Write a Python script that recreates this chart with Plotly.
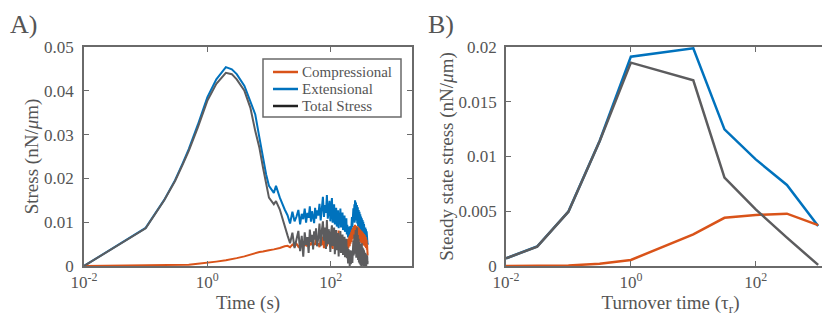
import plotly.graph_objects as go

# ---- panel A: stress vs time ----
time_early = [0.01, 0.1, 0.2, 0.3, 0.4, 0.5, 0.7, 1.0, 1.4, 2.0, 2.5, 3, 4, 5, 6, 7, 8, 9, 10, 12, 13, 15, 18]
time_mid = [20, 22, 24, 26, 28, 30, 32, 34, 36, 38, 40, 42, 44, 46, 48, 50, 52, 54, 56, 58, 60]
time_late = [63, 66, 69, 72, 75, 78, 81, 84, 87, 90,
             93, 96, 99, 102, 105, 108, 111, 114, 117, 120,
             123, 126, 129, 132, 135, 138, 141, 144, 147, 150,
             153, 156, 159, 162, 165, 168, 171, 174, 177, 180,
             183, 186, 189, 192, 195, 198, 201, 204, 207, 210,
             213, 216, 219, 222, 225, 228, 231, 234, 237, 240,
             243, 246, 249, 252, 255, 258, 261, 264, 267, 270,
             273, 276, 279, 282, 285, 288, 291, 294, 297, 300,
             303, 306, 309, 312, 315, 318, 321, 324, 327, 330,
             333, 336, 339, 342, 345, 348, 351, 354, 357, 360,
             363, 366, 369, 372, 375, 378, 381, 384, 387, 390,
             393, 396, 399]

comp_early = [0, 0.0001, 0.0001, 0.0002, 0.0002, 0.0003, 0.0005, 0.0007, 0.0010, 0.0013, 0.0015, 0.0018,
              0.0022, 0.0026, 0.0030, 0.0032, 0.0033, 0.0035, 0.0036, 0.0038, 0.0039, 0.0041, 0.0045]
comp_mid = [0.0046, 0.0043, 0.0049, 0.0045, 0.0051, 0.0044, 0.0048, 0.0053, 0.0045, 0.0050, 0.0047,
            0.0055, 0.0044, 0.0051, 0.0048, 0.0058, 0.0046, 0.0052, 0.0049, 0.0061, 0.0047]
comp_late = [0.0052, 0.0043, 0.0060, 0.0048, 0.0067, 0.0041, 0.0056, 0.0072, 0.0045, 0.0063,
             0.0050, 0.0078, 0.0042, 0.0058, 0.0070, 0.0039, 0.0061, 0.0047, 0.0075, 0.0044,
             0.0057, 0.0038, 0.0066, 0.0049, 0.0081, 0.0036, 0.0059, 0.0043, 0.0068, 0.0034,
             0.0052, 0.0064, 0.0031, 0.0055, 0.0040, 0.0061, 0.0033, 0.0049, 0.0058, 0.0030,
             0.0046, 0.0056, 0.0035, 0.0062, 0.0042, 0.0053, 0.0068, 0.0045, 0.0072, 0.0051,
             0.0064, 0.0078, 0.0055, 0.0083, 0.0061, 0.0074, 0.0088, 0.0063, 0.0079, 0.0091,
             0.0068, 0.0085, 0.0094, 0.0070, 0.0089, 0.0064, 0.0092, 0.0076, 0.0086, 0.0061,
             0.0083, 0.0090, 0.0058, 0.0080, 0.0071, 0.0087, 0.0056, 0.0078, 0.0066, 0.0084,
             0.0054, 0.0075, 0.0063, 0.0081, 0.0052, 0.0072, 0.0060, 0.0079, 0.0050, 0.0070,
             0.0058, 0.0076, 0.0048, 0.0068, 0.0056, 0.0073, 0.0046, 0.0065, 0.0054, 0.0070,
             0.0044, 0.0062, 0.0051, 0.0066, 0.0041, 0.0058, 0.0047, 0.0060, 0.0037, 0.0050,
             0.0042, 0.0031, 0.0024]

ext_early = [0, 0.0087, 0.0151, 0.0196, 0.0235, 0.0267, 0.0322, 0.0385, 0.0426, 0.0454, 0.0449, 0.0438,
             0.0411, 0.0377, 0.0346, 0.0293, 0.0247, 0.0209, 0.0183, 0.0167, 0.0183, 0.0156, 0.0129]
ext_mid = [0.0116, 0.0097, 0.0124, 0.0102, 0.0113, 0.0128, 0.0095, 0.0119, 0.0107, 0.0131, 0.0099,
           0.0121, 0.0110, 0.0136, 0.0101, 0.0125, 0.0114, 0.0098, 0.0133, 0.0108, 0.0127]
ext_late = [0.0115, 0.0142, 0.0104, 0.0131, 0.0158, 0.0112, 0.0139, 0.0121, 0.0162, 0.0108,
            0.0135, 0.0149, 0.0102, 0.0128, 0.0155, 0.0099, 0.0124, 0.0141, 0.0095, 0.0118,
            0.0133, 0.0090, 0.0112, 0.0127, 0.0086, 0.0119, 0.0104, 0.0131, 0.0088, 0.0110,
            0.0097, 0.0122, 0.0082, 0.0106, 0.0093, 0.0115, 0.0078, 0.0101, 0.0087, 0.0109,
            0.0072, 0.0094, 0.0081, 0.0065, 0.0090, 0.0069, 0.0084, 0.0062, 0.0079, 0.0091,
            0.0071, 0.0098, 0.0083, 0.0112, 0.0088, 0.0121, 0.0095, 0.0132, 0.0102, 0.0118,
            0.0141, 0.0099, 0.0150, 0.0112, 0.0136, 0.0145, 0.0104, 0.0128, 0.0139, 0.0097,
            0.0122, 0.0134, 0.0091, 0.0117, 0.0128, 0.0088, 0.0111, 0.0124, 0.0084, 0.0106,
            0.0118, 0.0080, 0.0102, 0.0113, 0.0077, 0.0098, 0.0109, 0.0074, 0.0094, 0.0105,
            0.0071, 0.0090, 0.0101, 0.0068, 0.0087, 0.0096, 0.0065, 0.0083, 0.0092, 0.0062,
            0.0079, 0.0088, 0.0060, 0.0075, 0.0084, 0.0057, 0.0071, 0.0079, 0.0054, 0.0066,
            0.0072, 0.0052, 0.0048]

total_early = [0, 0.0086, 0.0150, 0.0194, 0.0232, 0.0263, 0.0316, 0.0377, 0.0416, 0.0441, 0.0438, 0.0426,
               0.0400, 0.0361, 0.0308, 0.0270, 0.0225, 0.0186, 0.0156, 0.0141, 0.0148, 0.0129, 0.0095]
total_mid = [0.0070, 0.0052, 0.0076, 0.0041, 0.0063, 0.0080, 0.0034, 0.0069, 0.0021, 0.0077, 0.0048,
             0.0066, 0.0030, 0.0083, 0.0055, 0.0071, 0.0038, 0.0079, 0.0060, 0.0086, 0.0045]
total_late = [0.0063, 0.0097, 0.0045, 0.0081, 0.0102, 0.0058, 0.0088, 0.0039, 0.0105, 0.0050,
              0.0084, 0.0069, 0.0032, 0.0079, 0.0093, 0.0046, 0.0071, 0.0088, 0.0027, 0.0066,
              0.0082, 0.0036, 0.0058, 0.0075, 0.0022, 0.0069, 0.0048, 0.0080, 0.0030, 0.0061,
              0.0043, 0.0072, 0.0025, 0.0056, 0.0038, 0.0067, 0.0020, 0.0051, 0.0033, 0.0062,
              0.0018, 0.0044, 0.0028, 0.0006, 0.0039, 0.0012, 0.0030, 0.0000, 0.0021, 0.0036,
              0.0004, 0.0027, 0.0011, 0.0035, 0.0007, 0.0046, 0.0016, 0.0058, 0.0024, 0.0041,
              0.0072, 0.0028, 0.0066, 0.0035, 0.0082, 0.0043, 0.0019, 0.0060, 0.0088, 0.0026,
              0.0051, 0.0071, 0.0014, 0.0045, 0.0062, 0.0008, 0.0039, 0.0055, 0.0005, 0.0033,
              0.0050, 0.0002, 0.0029, 0.0046, 0.0000, 0.0031, 0.0052, 0.0004, 0.0027, 0.0042,
              0.0001, 0.0024, 0.0040, 0.0000, 0.0021, 0.0036, 0.0002, 0.0019, 0.0033, 0.0000,
              0.0017, 0.0030, 0.0003, 0.0014, 0.0027, 0.0000, 0.0012, 0.0024, 0.0001, 0.0010,
              0.0021, 0.0004, 0.0011]

# ---- panel B: steady state stress vs turnover time ----
turnover = [0.01, 0.0316, 0.1, 0.316, 1, 10, 31.6, 100, 316, 1000]
ss_comp = [0, 0.00001, 0.00005, 0.0002, 0.00055, 0.00289, 0.0044, 0.00466, 0.00478, 0.00374]
ss_ext = [0.0007, 0.00178, 0.00497, 0.01142, 0.01912, 0.01988, 0.01248, 0.00974, 0.0074, 0.00365]
ss_total = [0.0007, 0.00177, 0.00496, 0.0114, 0.01857, 0.01696, 0.00807, 0.00517, 0.00259, 0.0001]

legend_names = ['Compressional', 'Extensional', 'Total Stress']

ORANGE = '#D95319'
BLUE = '#0072BD'
GRAY = '#5c5c5e'
TXT = '#555555'
AX = '#6a6a6a'
FONT = 'Liberation Serif, Times New Roman, Times, serif'

time = time_early + time_mid + time_late

fig = go.Figure()
fig.add_trace(go.Scatter(x=time, y=ext_early + ext_mid + ext_late, mode='lines',
                         line=dict(color=BLUE, width=2)))
fig.add_trace(go.Scatter(x=time, y=comp_early + comp_mid + comp_late, mode='lines',
                         line=dict(color=ORANGE, width=2)))
fig.add_trace(go.Scatter(x=time, y=total_early + total_mid + total_late, mode='lines',
                         line=dict(color=GRAY, width=2)))

fig.add_trace(go.Scatter(x=turnover, y=ss_ext, mode='lines', line=dict(color=BLUE, width=2.5),
                         xaxis='x2', yaxis='y2'))
fig.add_trace(go.Scatter(x=turnover, y=ss_comp, mode='lines', line=dict(color=ORANGE, width=2.5),
                         xaxis='x2', yaxis='y2'))
fig.add_trace(go.Scatter(x=turnover, y=ss_total, mode='lines', line=dict(color=GRAY, width=2.5),
                         xaxis='x2', yaxis='y2'))

W, H = 830, 322
ydom = [(H - 258) / H, (H - 39) / H]


def px(x):
    return x / W


def py(y):
    return 1 - y / H


axis_common = dict(showgrid=False, zeroline=False, showline=True, linecolor=AX, linewidth=1.5,
                   mirror='ticks', ticks='inside', ticklen=5, tickcolor=AX, tickwidth=1,
                   tickfont=dict(family=FONT, size=17, color=TXT), automargin=False)

xticks = [0.01, 1, 100]
xticktext = ['10<sup>-2</sup>', '10<sup>0</sup>', '10<sup>2</sup>']

# legend box drawn by hand (matlab style, tight rows)
shapes = [dict(type='rect', xref='paper', yref='paper', x0=px(255), x1=px(393), y0=py(109), y1=py(51),
               line=dict(color=AX, width=1.5), fillcolor='white', layer='above')]
annotations = []
for i, (name, col) in enumerate(zip(legend_names, [ORANGE, BLUE, '#222222'])):
    yy = 64 + 17 * i
    shapes.append(dict(type='line', xref='paper', yref='paper', x0=px(265), x1=px(290), y0=py(yy), y1=py(yy),
                       line=dict(color=col, width=2.5), layer='above'))
    annotations.append(dict(text=name, x=px(292), y=py(yy), xref='paper', yref='paper',
                            xanchor='left', yanchor='middle', showarrow=False,
                            font=dict(family=FONT, size=15, color=TXT)))

annotations += [
    dict(text='A)', x=0, y=1, xref='paper', yref='paper', xanchor='left', yanchor='top',
         showarrow=False, font=dict(family=FONT, size=26, color=TXT)),
    dict(text='B)', x=px(418), y=1, xref='paper', yref='paper', xanchor='left', yanchor='top',
         showarrow=False, font=dict(family=FONT, size=26, color=TXT)),
]

fig.update_layout(
    width=W, height=H,
    margin=dict(l=0, r=0, t=0, b=0),
    paper_bgcolor='white', plot_bgcolor='white',
    font=dict(family=FONT, color=TXT),
    showlegend=False,
    xaxis=dict(axis_common, type='log', range=[-2, 3.32], domain=[px(76), px(404)],
               tickvals=xticks, ticktext=xticktext,
               title=dict(text='Time (s)', font=dict(family=FONT, size=19, color=TXT), standoff=4)),
    yaxis=dict(axis_common, range=[0, 0.05], dtick=0.01, domain=ydom, ticklabelstandoff=5,
               title=dict(text='Stress (nN/<i>μ</i>m)', font=dict(family=FONT, size=19, color=TXT), standoff=0)),
    xaxis2=dict(axis_common, type='log', range=[-2, 3.27], domain=[px(498), px(827)], anchor='y2',
                tickvals=xticks, ticktext=xticktext,
                title=dict(text='Turnover time (τ<sub>r</sub>)', font=dict(family=FONT, size=19, color=TXT), standoff=4)),
    yaxis2=dict(axis_common, range=[0, 0.02], dtick=0.005, domain=ydom, anchor='x2', ticklabelstandoff=4,
                title=dict(text='Steady state stress (nN/<i>μ</i>m)', font=dict(family=FONT, size=19, color=TXT), standoff=0)),
    shapes=shapes,
    annotations=annotations,
)

fig.write_html('out.html')
